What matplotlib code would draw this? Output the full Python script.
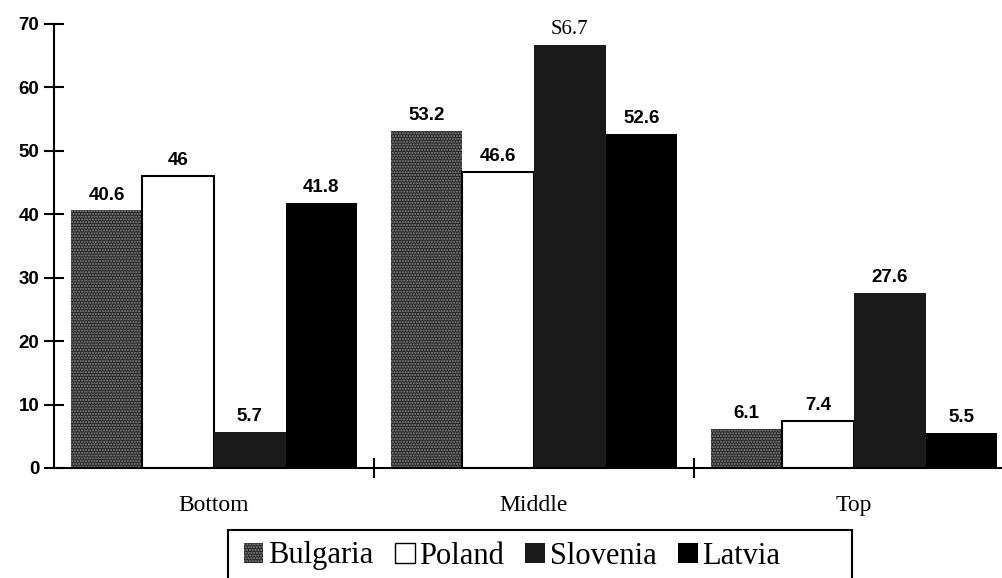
import numpy as np
import matplotlib.pyplot as plt
from matplotlib.patches import Patch, Rectangle

groups = ["Bottom", "Middle", "Top"]
countries = ["Bulgaria", "Poland", "Slovenia", "Latvia"]
bulgaria = [40.6, 53.2, 6.1]
poland = [46, 46.6, 7.4]
slovenia = [5.7, 66.7, 27.6]
latvia = [41.8, 52.6, 5.5]
label_text = [["40.6", "53.2", "6.1"],
              ["46", "46.6", "7.4"],
              ["5.7", "S6.7", "27.6"],
              ["41.8", "52.6", "5.5"]]
yticks = [0, 10, 20, 30, 40, 50, 60, 70]

series = [bulgaria, poland, slovenia, latvia]
styles = [
    dict(facecolor="#262626", edgecolor="#8a8a8a", hatch="......", linewidth=0),
    dict(facecolor="white", edgecolor="black", linewidth=1.5),
    dict(facecolor="#1a1a1a", edgecolor="#1a1a1a", linewidth=0),
    dict(facecolor="black", edgecolor="black", linewidth=0),
]

fig = plt.figure(figsize=(10.02, 5.78), dpi=100)
ax = fig.add_axes([54 / 1002, 1 - 468 / 578, 960 / 1002, 444 / 578])

w = 0.2235
x0 = np.arange(len(groups)) + 0.053
for i, vals in enumerate(series):
    xs = x0 + i * w
    ax.bar(xs, vals, width=w, align="edge", **styles[i])
    for j, v in enumerate(vals):
        txt = label_text[i][j]
        if txt.startswith("S"):
            ax.text(xs[j] + w / 2, v + 0.9, txt, ha="center", va="bottom",
                    fontsize=15, family="Liberation Serif")
        else:
            ax.text(xs[j] + w / 2, v + 1.1, txt, ha="center", va="bottom",
                    fontsize=13.5, fontweight="bold", family="Liberation Sans")

ax.set_xlim(0, 3)
ax.set_ylim(0, 70)
ax.set_yticks(yticks)
ax.set_yticklabels([str(t) for t in yticks], fontsize=13.5, fontweight="bold",
                   family="Liberation Sans")
ax.set_xticks([1, 2])
ax.set_xticklabels([])
ax.tick_params(axis="both", direction="inout", length=15, width=1.5)
ax.tick_params(axis="y", pad=3)
for s in ["top", "right"]:
    ax.spines[s].set_visible(False)
ax.spines["left"].set_linewidth(1.5)
ax.spines["bottom"].set_linewidth(1.5)

for j, g in enumerate(groups):
    ax.text(j + 0.5, -5.9, g, ha="center", va="center", fontsize=17,
            family="Liberation Serif")

handles = [Patch(**styles[i]) for i in range(4)]
handles[1] = Patch(facecolor="white", edgecolor="black", linewidth=1.0)
leg = fig.legend(handles, countries, loc="center", ncol=4,
                 bbox_to_anchor=(512 / 1002, 1 - 556 / 578), frameon=False,
                 borderpad=0.0, handlelength=0.65, handleheight=0.65,
                 handletextpad=0.15, columnspacing=0.7,
                 prop={"family": "Liberation Serif", "size": 22})
fig.patches.append(Rectangle((228 / 1002, -0.05), 624 / 1002, 0.05 + 48 / 578,
                             transform=fig.transFigure, facecolor="none",
                             edgecolor="black", linewidth=1.5))

fig.savefig("out.png", dpi=100)
